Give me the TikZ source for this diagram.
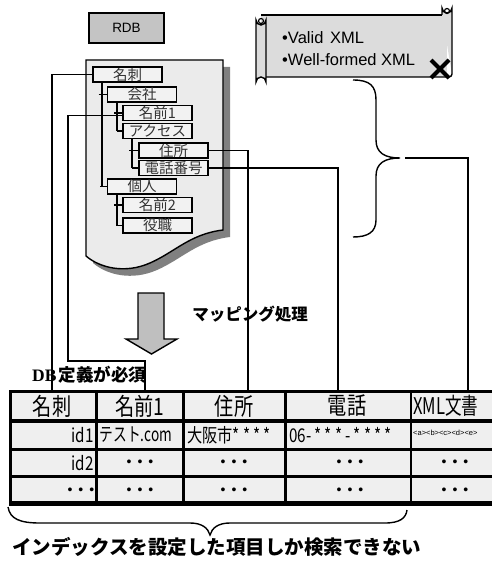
\documentclass[tikz,border=0pt]{standalone}
\usepackage{fontspec}
\setmainfont{Liberation Sans}
\newfontfamily\jp{Noto Sans CJK JP}
\newfontfamily\jpn[FakeStretch=0.8]{Noto Sans CJK JP}
\newfontfamily\jpnn[FakeStretch=0.72]{Noto Sans CJK JP}
\newfontfamily\serifb{Liberation Serif}
\definecolor{rdbgray}{HTML}{C4C4C4}
\definecolor{docfill}{HTML}{EBEBEB}
\definecolor{shadowgray}{HTML}{808080}
\definecolor{treefill}{HTML}{F2F2F2}
\definecolor{scrollfill}{HTML}{DCDCDC}
\definecolor{arrowgray}{HTML}{BFBFBF}
\definecolor{tabfill}{HTML}{EFEFEF}
\begin{document}
\begin{tikzpicture}[x=1pt,y=-1pt,line join=miter]
\tikzset{
 tbox/.style={draw=black, line width=1.4pt, fill=treefill, minimum width=69pt, minimum height=15pt, inner sep=0pt, font=\jp\fontsize{14.5}{14.5}\selectfont, text=black!80},
 conn/.style={draw=black, line width=1.4pt},
 tline/.style={draw=black, line width=1.4pt},
 tabline/.style={draw=black, line width=3pt},
 hdr/.style={font=\jpn\fontsize{24}{24}\selectfont, inner sep=0pt},
 cell/.style={font=\jpn\fontsize{19}{19}\selectfont, inner sep=0pt},
 dotsx/.style={font=\fontsize{14}{14}\selectfont, inner sep=0pt},
 bigtext/.style={font=\jp\bfseries\fontsize{19.5}{19.5}\selectfont, inner sep=0pt},
 scrolltext/.style={anchor=west, inner sep=0pt, font=\fontsize{16.5}{16.5}\selectfont},
}
\fill[white] (0,0) rectangle (492,567);
\useasboundingbox (0,0) rectangle (492,567);

% RDB
\node[draw=black, fill=rdbgray, line width=1.4pt, minimum width=75pt, minimum height=30pt, inner sep=0pt, font=\fontsize{13.5}{13.5}\selectfont] (rdb) at (126.5,28) {RDB};

% document shape with shadow
\fill[shadowgray, shift={(7,7)}] (86,60) -- (223,60) -- (223,230) .. controls (190,234) and (175,252) .. (150,263) .. controls (125,274) and (100,268) .. (86,256) -- cycle;
\draw[fill=docfill, line width=1.4pt] (86,60) -- (223,60) -- (223,230) .. controls (190,234) and (175,252) .. (150,263) .. controls (125,274) and (100,268) .. (86,256) -- cycle;

% tree nodes
\node[tbox] (mei) at (127.5,74.5) {名刺};
\node[tbox] (kaisha) at (142,94.5) {会社};
\node[tbox] (nm1) at (157.5,113) {名前1};
\node[tbox] (acc) at (157.5,131) {アクセス};
\node[tbox] (addr) at (173.5,150.5) {住所};
\node[tbox] (tel) at (173.5,168) {電話番号};
\node[tbox] (kojin) at (142,186.5) {個人};
\node[tbox] (nm2) at (157.5,205) {名前2};
\node[tbox] (yaku) at (157.5,225.5) {役職};

% tree lines
\draw[tline] (102,82) -- (102,186.5);
\draw[tline] (98.5,94.5) -- (kaisha.west);
\draw[tline] (100,186.5) -- (kojin.west);
\draw[tline] (117,102) -- (117,131);
\draw[tline] (114,113) -- (nm1.west);
\draw[tline] (117,131) -- (acc.west);
\draw[tline] (132,138) -- (132,168);
\draw[tline] (129,150.5) -- (addr.west);
\draw[tline] (132,168) -- (tel.west);
\draw[tline] (117,194) -- (117,225.5);
\draw[tline] (114,205) -- (nm2.west);
\draw[tline] (117,225.5) -- (yaku.west);

% scroll
\fill[scrollfill] (261,15) rectangle (447,77);
\draw[line width=1.4pt] (261,15) -- (442,15);
\draw[line width=1.4pt] (266,77) -- (449,77) arc (90:0:3) ;
\draw[fill=scrollfill, line width=1.4pt] (442,15) -- (442,8) arc (180:0:5) -- (452,74);
\draw[line width=1.2pt] (447,11) circle (2.5);
\draw[fill=scrollfill, line width=1.4pt] (256,20) arc (180:0:5) -- (266,82) arc (0:-180:5) -- cycle;
\draw[line width=1.2pt] (261,21) circle (2.5);
\node[scrolltext] (v1) at (282,38) {•Valid\hspace{2pt} XML};
\node[scrolltext] (v2) at (282,60) {•Well-formed XML};
\draw[line width=4pt] (431,60) -- (449,78) (431,78) -- (449,60);

% right brace
\draw[line width=1.4pt] (353,80) .. controls (370,80) and (376,86) .. (376,100) -- (376,140) .. controls (376,153) and (385,158) .. (400,158) .. controls (385,158) and (376,163) .. (376,176) -- (376,220) .. controls (376,232) and (368,237) .. (353,237);

% arrow
\draw[fill=arrowgray, line width=1.4pt] (138,293) -- (164,293) -- (164,339) -- (177,339) -- (151.5,354) -- (126,339) -- (138,339) -- cycle;

% labels
\node[inner sep=0pt, font=\jp\bfseries\fontsize{16.5}{16.5}\selectfont] (map) at (250,314) {マッピング処理};
\node[anchor=west, inner sep=0pt] (dbdef) at (32,375) {{\serifb\bfseries\fontsize{17.5}{17.5}\selectfont DB}\hspace{2pt}{\jp\bfseries\fontsize{17.5}{17.5}\selectfont 定義が必須}};

% table
\fill[tabfill] (10,390) rectangle (492,504);
\coordinate (t1) at (52,390);
\coordinate (t2) at (145,390);
\coordinate (t3) at (248,390);
\coordinate (t4) at (338,390);
\coordinate (t5) at (468,390);
\coordinate (bt) at (405,158);

% connectors
\draw[conn] (mei.west) -| (t1);
\draw[conn] ([yshift=-2.5pt]nm1.west) -- (68,115.5) -- (68,361) -| (t2);
\draw[conn] (addr.east) -| (t3);
\draw[conn] (tel.east) -| (t4);
\draw[conn] (bt) -| (t5);

% table lines
\draw[tabline] (9,391) -- (492,391);
\draw[tabline, line width=3.5pt] (9,421) -- (492,421);
\draw[tabline] (9,449) -- (492,449);
\draw[tabline] (9,476.5) -- (492,476.5);
\draw[tabline, line width=5pt] (9,503.5) -- (492,503.5);
\draw[tabline] (10.5,390) -- (10.5,506);
\draw[tabline] (96,390) -- (96,506);
\draw[tabline] (183.5,390) -- (183.5,506);
\draw[tabline] (285.5,390) -- (285.5,506);
\draw[tabline, line width=2pt] (411,390) -- (411,506);

% header
\node[hdr] (h1) at (52,406) {名刺};
\node[hdr] (h2) at (140,406) {名前1};
\node[hdr] (h3) at (234,406) {住所};
\node[hdr] (h4) at (347,406) {電話};
\node[hdr, font=\jpnn\fontsize{23}{23}\selectfont, anchor=west] (h5) at (413,406) {XML文書};

% rows
\node[cell, anchor=east] (r1a) at (94,435) {id1};
\node[cell, font=\jpnn\fontsize{19}{19}\selectfont, anchor=west] (r1b) at (99.5,435) {テスト.com};
\node[cell, anchor=west] (r1c) at (187,435) {大阪市*\,*\,*\,*};
\node[cell, anchor=west] (r1d) at (289,435) {06-\,*\,*\,*\,-\,*\,*\,*\,*};
\node[anchor=west, inner sep=0pt, font=\fontsize{7.5}{7.5}\selectfont] (r1e) at (413,433) {<a><b><c><d><e>};
\node[cell, anchor=east] (r2a) at (94,463) {id2};
\node[dotsx] (r2b) at (140,463) {•\hspace{6pt}•\hspace{6pt}•};
\node[dotsx] (r2c) at (234,463) {•\hspace{6pt}•\hspace{6pt}•};
\node[dotsx] (r2d) at (350,463) {•\hspace{6pt}•\hspace{6pt}•};
\node[dotsx] (r2e) at (455,463) {•\hspace{6pt}•\hspace{6pt}•};
\node[dotsx, anchor=east] (r3a) at (94.5,491) {•\hspace{6pt}•\hspace{6pt}•};
\node[dotsx] (r3b) at (140,491) {•\hspace{6pt}•\hspace{6pt}•};
\node[dotsx] (r3c) at (234,491) {•\hspace{6pt}•\hspace{6pt}•};
\node[dotsx] (r3d) at (350,491) {•\hspace{6pt}•\hspace{6pt}•};
\node[dotsx] (r3e) at (455,491) {•\hspace{6pt}•\hspace{6pt}•};

% bottom brace
\draw[line width=1.4pt] (8,507) .. controls (10,519) and (20,523) .. (40,523) -- (190,523) .. controls (202,523) and (208,528) .. (210,535) .. controls (212,528) and (218,523) .. (230,523) -- (385,523) .. controls (400,523) and (406,518) .. (407,510);

\node[bigtext, anchor=west] (idx) at (12,547) {インデックスを設定した項目しか検索できない};
\end{tikzpicture}
\end{document}
